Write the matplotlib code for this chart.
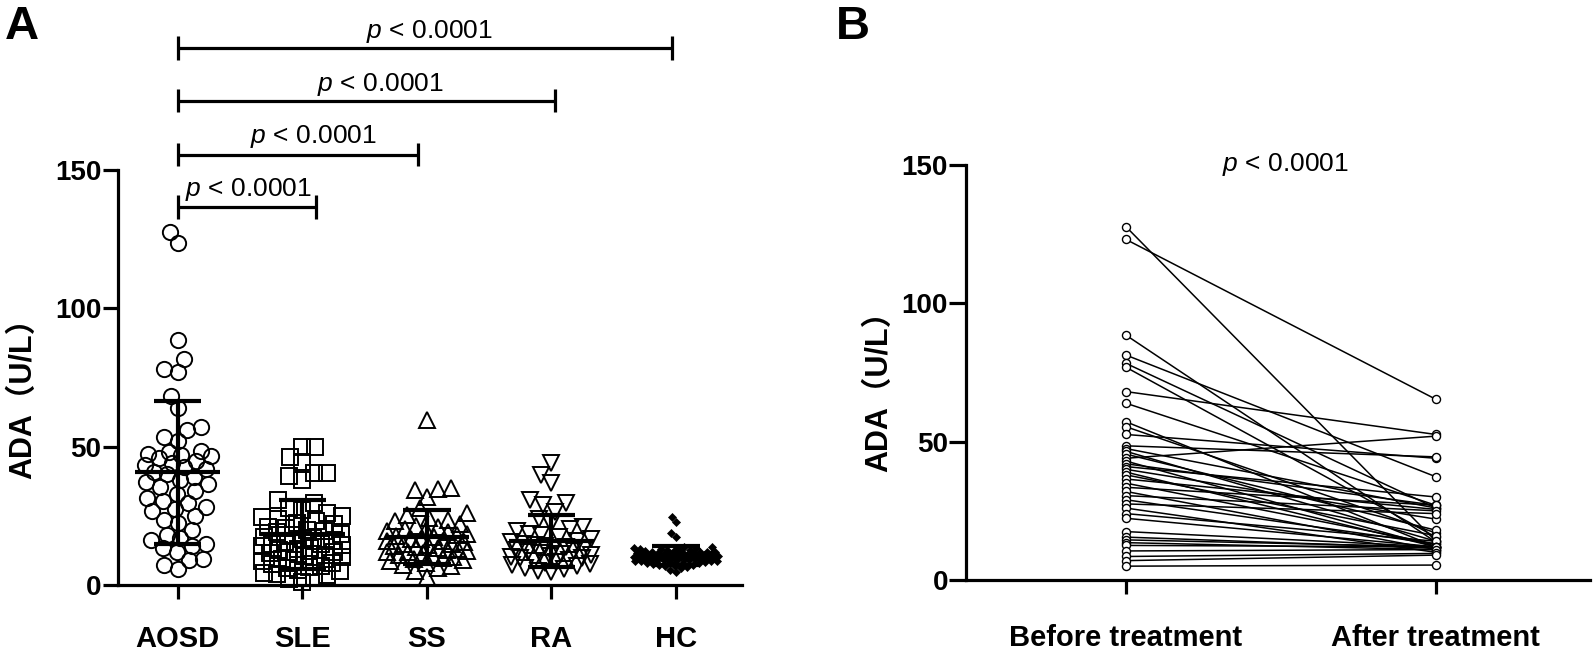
import numpy as np
import matplotlib
matplotlib.use('Agg')
import matplotlib.pyplot as plt

plt.rcParams['font.family'] = ['Liberation Sans', 'Noto Sans CJK SC', 'DejaVu Sans']
plt.rcParams['mathtext.fontset'] = 'custom'
plt.rcParams['mathtext.it'] = 'Liberation Sans:italic'
plt.rcParams['mathtext.rm'] = 'Liberation Sans'

# ---------------- data ----------------
groups = ['AOSD', 'SLE', 'SS', 'RA', 'HC']

aosd = [127.7, 123.5, 88.5, 81.6, 78.0, 76.9, 68.4, 63.9, 57.2, 56.0, 53.6, 52.0,
        48.5, 48.0, 47.5, 47.0, 46.5, 46.0, 45.0, 44.0, 43.4, 42.8, 42.0, 41.0,
        40.0, 39.0, 38.0, 37.2, 36.5, 35.5, 34.0, 33.0, 31.4, 30.5, 29.6, 28.2,
        27.5, 26.6, 25.0, 23.5, 22.5, 20.0, 18.0, 16.9, 16.2, 14.8, 14.0, 13.5,
        12.0, 9.4, 9.0, 7.2, 5.7]

sle = [50.0, 50.0, 46.4, 44.5, 40.4, 40.4, 39.5, 38.0, 30.7, 29.5, 28.0, 27.0,
       26.0, 25.0, 24.5, 24.0, 23.0, 22.5, 22.0, 21.0, 20.5, 20.0, 19.5, 19.0,
       18.5, 18.0, 17.5, 17.0, 16.5, 16.0, 15.5, 15.0, 15.0, 14.5, 14.0, 13.5,
       13.0, 12.5, 12.0, 12.0, 11.5, 11.0, 10.5, 10.0, 10.0, 9.5, 9.0, 8.5,
       8.0, 7.5, 7.0, 6.5, 6.0, 5.5, 5.0, 4.5, 4.0, 3.5, 3.0, 2.0, 1.0]

ss = [59.6, 35.0, 34.6, 34.4, 31.9, 27.7, 26.0, 25.2, 24.3, 23.5, 23.0, 22.2,
      21.5, 21.0, 20.4, 20.0, 19.6, 19.0, 18.6, 18.0, 17.6, 17.2, 16.8, 16.5,
      16.0, 15.8, 15.4, 15.0, 14.7, 14.4, 14.0, 13.8, 13.4, 13.0, 12.7, 12.4,
      12.0, 11.8, 11.4, 11.0, 10.6, 10.2, 9.8, 9.4, 9.0, 8.5, 8.0, 7.4, 6.8,
      6.0, 5.0, 3.0]

ra = [44.0, 39.8, 36.7, 30.7, 29.5, 29.0, 26.5, 24.0, 22.0, 21.0, 20.2, 19.4,
      18.6, 18.0, 17.3, 16.6, 16.0, 15.5, 15.0, 14.6, 14.2, 13.8, 13.4, 13.0,
      12.6, 12.2, 11.8, 11.5, 11.2, 10.8, 10.5, 10.2, 9.9, 9.6, 9.2, 8.8, 8.4,
      8.0, 7.6, 7.2, 6.8, 6.3, 5.8, 5.2, 4.8]

hc = [24.7, 22.9, 18.7, 17.5, 13.9, 13.6, 13.5, 13.2, 13.0, 12.9, 12.7, 12.6,
      12.5, 12.3, 12.2, 12.1, 12.0, 11.9, 11.8, 11.7, 11.6, 11.5, 11.4, 11.3,
      11.2, 11.1, 11.0, 11.0, 10.9, 10.8, 10.7, 10.6, 10.5, 10.5, 10.4, 10.3,
      10.2, 10.1, 10.0, 10.0, 9.9, 9.8, 9.7, 9.6, 9.5, 9.5, 9.4, 9.3, 9.2,
      9.1, 9.0, 8.9, 8.8, 8.7, 8.6, 8.5, 8.4, 8.3, 8.1, 8.0, 7.8, 7.6, 7.4,
      7.2, 7.0, 6.7, 6.4, 6.0, 5.5, 4.8]

group_values = [aosd, sle, ss, ra, hc]

before = [127.7, 123.1, 88.5, 81.3, 78.3, 76.9, 68.1, 63.9, 57.2, 55.4, 52.6,
          48.5, 47.5, 46.5, 45.5, 44.0, 43.0, 42.0, 41.0, 40.0, 39.0, 38.0,
          36.5, 35.0, 33.5, 32.0, 30.5, 29.0, 27.5, 26.0, 24.0, 22.3, 17.5,
          15.5, 14.5, 13.5, 12.5, 10.5, 8.5, 7.0, 5.0]
after = [14.0, 65.3, 13.7, 37.3, 26.0, 15.5, 52.6, 27.0, 12.0, 17.0, 44.0,
         44.5, 26.0, 14.0, 18.0, 52.0, 12.0, 27.0, 30.0, 22.0, 12.0, 16.0,
         25.5, 13.0, 27.0, 11.0, 25.0, 13.0, 24.0, 10.0, 14.0, 12.0, 12.0,
         11.5, 12.0, 11.0, 12.0, 11.0, 9.6, 9.0, 5.4]

pair_labels = ['Before treatment', 'After treatment']
yticks = [0, 50, 100, 150]
ylabel = 'ADA\uff08U/L\uff09'
p_label = r'$p$ < 0.0001'

# comparison brackets (AOSD vs others): right end, bracket height, text x, text baseline
br_right = [3.97, 3.03, 1.93, 1.11]
br_y = [194.1, 175.1, 155.6, 136.5]
br_tx = [2.02, 1.63, 1.09, 0.57]
br_ty = [197.8, 178.7, 159.6, 140.5]

# ---------------- figure ----------------
W, H = 1594, 656
fig = plt.figure(figsize=(W / 100, H / 100), dpi=100)

axA_px = (118, 742, 170, 585)  # left, right, top, bottom
axB_px = (966, 1590, 165, 580)

def make_axes(px):
    l, r, t, b = px
    return fig.add_axes([l / W, 1 - b / H, (r - l) / W, (b - t) / H])

axA = make_axes(axA_px)
axB = make_axes(axB_px)

def style_axes(ax, xt, xlabels, xpad, ylen):
    for s in ['top', 'right']:
        ax.spines[s].set_visible(False)
    for s in ['left', 'bottom']:
        ax.spines[s].set_linewidth(2.3)
    ax.set_ylim(0, 150)
    ax.set_yticks(yticks)
    ax.set_yticklabels([str(v) for v in yticks], fontweight='bold', fontsize=20)
    ax.set_xticks(xt)
    ax.set_xticklabels(xlabels, fontweight='bold', fontsize=21)
    ax.tick_params(axis='y', length=ylen, width=2.3, pad=1)
    ax.tick_params(axis='x', length=10, width=2.3, pad=xpad)

# ---------------- Panel A ----------------
xlimA = (-0.48, 4.53)
axA.set_xlim(*xlimA)
style_axes(axA, range(len(groups)), groups, 19, 11)

xppu = (axA_px[1] - axA_px[0]) / (xlimA[1] - xlimA[0])
yppu = (axA_px[3] - axA_px[2]) / 150.0

def swarm_offsets(vals, d, maxw):
    vals = np.asarray(vals, float)
    order = np.argsort(vals)
    cand = np.arange(-maxw, maxw + 0.01, 1.0)
    cand = cand[np.lexsort((cand, np.abs(cand)))]
    placed_x, placed_y = [], []
    offs = np.zeros(len(vals))
    for i in order:
        y = vals[i] * yppu
        if placed_x:
            px = np.array(placed_x); py = np.array(placed_y)
            near = np.abs(py - y) < d
            if near.any():
                dx = cand[:, None] - px[near][None, :]
                dy = (py[near] - y)[None, :]
                md = np.sqrt(dx ** 2 + dy ** 2).min(axis=1)
                ok = np.where(md >= d)[0]
                c = cand[ok[0]] if len(ok) else cand[np.argmax(md)]
            else:
                c = 0.0
        else:
            c = 0.0
        offs[i] = c
        placed_x.append(c); placed_y.append(y)
    return offs / xppu

marker_specs = [
    dict(marker='o', ms=11, mfc='none', mec='black', mew=1.4),
    dict(marker='s', ms=11, mfc='none', mec='black', mew=1.4),
    dict(marker='^', ms=12, mfc='none', mec='black', mew=1.4),
    dict(marker='v', ms=12, mfc='none', mec='black', mew=1.4),
    dict(marker='D', ms=4.2, mfc='black', mec='black', mew=0.5),
]
swarm_d = [14, 13, 13, 13, 6]
swarm_w = [33, 40, 40, 40, 42]

for i, vals in enumerate(group_values):
    offs = swarm_offsets(vals, swarm_d[i], swarm_w[i])
    axA.plot(i + offs, vals, linestyle='none', zorder=3, clip_on=False,
             **marker_specs[i])
    m = np.mean(vals)
    s = np.std(vals, ddof=1)
    kw = dict(color='black', lw=3.0, solid_capstyle='butt', zorder=5)
    axA.plot([i - 0.34, i + 0.34], [m, m], **kw)
    axA.plot([i, i], [m - s, m + s], **kw)
    axA.plot([i - 0.19, i + 0.19], [m + s, m + s], **kw)
    axA.plot([i - 0.19, i + 0.19], [m - s, m - s], **kw)

for xr, yb, tx, ty in zip(br_right, br_y, br_tx, br_ty):
    kw = dict(color='black', lw=2.3, clip_on=False, solid_capstyle='butt')
    axA.plot([0, xr], [yb, yb], **kw)
    axA.plot([0, 0], [yb - 4.3, yb + 4.3], **kw)
    axA.plot([xr, xr], [yb - 4.3, yb + 4.3], **kw)
    axA.text(tx, ty, p_label, ha='center', va='baseline', fontsize=19,
             clip_on=False)

# ---------------- Panel B ----------------
axB.set_xlim(-0.516, 1.497)
style_axes(axB, [0, 1], pair_labels, 22, 12)
for b, a in zip(before, after):
    axB.plot([0, 1], [b, a], color='black', lw=1.1, marker='o', ms=5.8,
             mfc='white', mec='black', mew=1.0, zorder=3, clip_on=False)
axB.text(0.515, 147.9, p_label, ha='center', va='baseline', fontsize=19)

# ---------------- labels ----------------
fig.text(23.5 / W, 1 - 391 / H, ylabel, rotation=90, ha='center', va='center',
         fontsize=22, fontweight='bold')
fig.text(879 / W, 1 - 384 / H, ylabel, rotation=90, ha='center', va='center',
         fontsize=22, fontweight='bold')
fig.text(5 / W, 1 - 39 / H, 'A', fontsize=34, fontweight='bold', va='baseline')
fig.text(836 / W, 1 - 39 / H, 'B', fontsize=34, fontweight='bold', va='baseline')

fig.savefig('out.png', dpi=100)
